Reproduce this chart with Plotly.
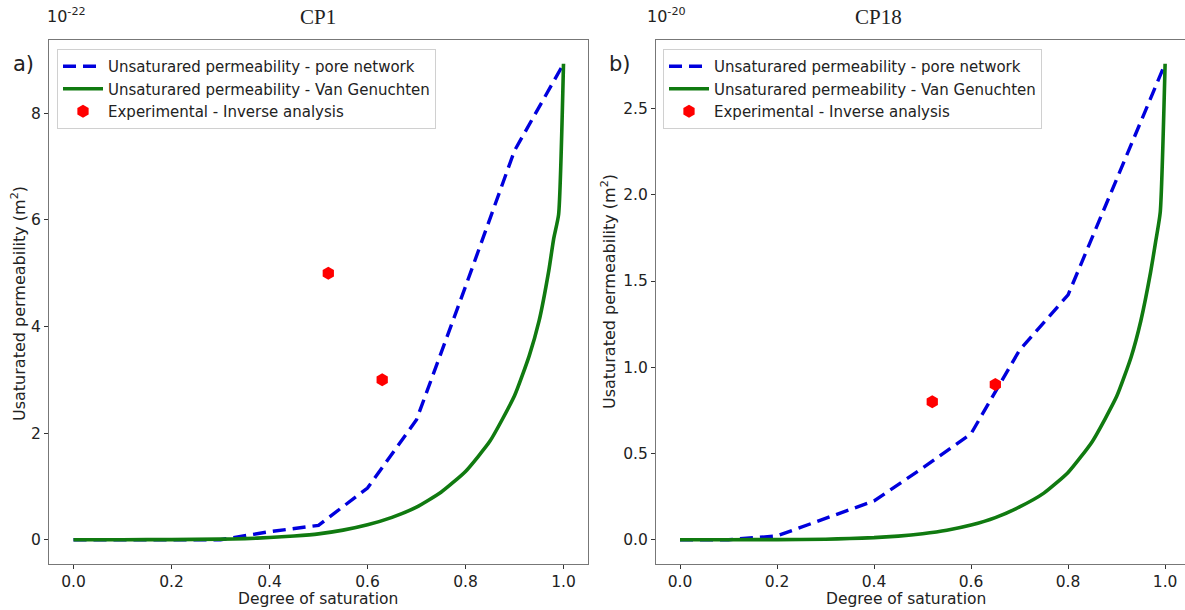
import plotly.graph_objects as go

W, H = 1185, 610

# ---------------- data ----------------
pn_x = [0.0, 0.1, 0.2, 0.3, 0.4, 0.5, 0.6, 0.7, 0.8, 0.9, 1.0]
cp1_pn = [0.0, 0.0, 0.0, 0.0, 0.15, 0.27, 0.97, 2.25, 4.75, 7.3, 8.93]
cp18_pn = [0.0, 0.0, 0.022, 0.125, 0.225, 0.415, 0.615, 1.1, 1.42, 2.09, 2.76]

vg_x = [0.0, 0.1, 0.2, 0.3, 0.35, 0.4, 0.45, 0.5, 0.55, 0.6, 0.65, 0.7, 0.75,
        0.8, 0.85, 0.9, 0.93, 0.95, 0.97, 0.98, 0.99, 1.0]
cp1_vg = [0.0, 0.0, 0.002, 0.01, 0.02, 0.04, 0.07, 0.11, 0.18, 0.28, 0.42, 0.61,
          0.89, 1.28, 1.85, 2.7, 3.45, 4.1, 5.05, 5.65, 6.1, 8.93]
cp18_vg = [0.0, 0.0, 0.0005, 0.003, 0.007, 0.012, 0.021, 0.035, 0.055, 0.085,
           0.128, 0.19, 0.27, 0.39, 0.57, 0.83, 1.06, 1.27, 1.55, 1.72, 1.9, 2.76]

cp1_exp_x = [0.52, 0.63]
cp1_exp_y = [5.0, 3.0]
cp18_exp_x = [0.52, 0.65]
cp18_exp_y = [0.8, 0.9]

x_ticks = [0.0, 0.2, 0.4, 0.6, 0.8, 1.0]
cp1_yticks = [0, 2, 4, 6, 8]
cp18_yticks = [0.0, 0.5, 1.0, 1.5, 2.0, 2.5]

names = ["Unsaturared permeability - pore network",
         "Unsaturared permeability - Van Genuchten",
         "Experimental - Inverse analysis"]

BLUE = "#0000dd"
GREEN = "#107a10"
RED = "#ff0000"

fig = go.Figure()

def add_panel(xa, ya, leg, pn, vg, ex, ey):
    fig.add_trace(go.Scatter(x=pn_x, y=pn, mode="lines", name=names[0],
                             line=dict(color=BLUE, width=3.4, dash="13px,7px"),
                             xaxis=xa, yaxis=ya, legend=leg))
    fig.add_trace(go.Scatter(x=vg_x, y=vg, mode="lines", name=names[1],
                             line=dict(color=GREEN, width=3.6, shape="spline", smoothing=0.5),
                             xaxis=xa, yaxis=ya, legend=leg))
    fig.add_trace(go.Scatter(x=ex, y=ey, mode="markers", name=names[2],
                             marker=dict(color=RED, size=13, symbol="hexagon"),
                             xaxis=xa, yaxis=ya, legend=leg))

add_panel("x", "y", "legend", cp1_pn, cp1_vg, cp1_exp_x, cp1_exp_y)
add_panel("x2", "y2", "legend2", cp18_pn, cp18_vg, cp18_exp_x, cp18_exp_y)

top = 40
bot = 563.5
ydom = [1 - bot / H, 1 - top / H]

tickfont = dict(family="DejaVu Sans", size=15.5, color="#222")
axcommon = dict(showgrid=False, zeroline=False, ticks="outside", ticklen=4,
                tickcolor="#333", showline=True, linecolor="#777", linewidth=1,
                tickfont=tickfont)

legfont = dict(family="DejaVu Sans", size=15, color="#222")

fig.update_layout(
    width=W, height=H,
    margin=dict(l=0, r=0, t=0, b=0),
    paper_bgcolor="white", plot_bgcolor="white",
    showlegend=True,
    xaxis=dict(domain=[49 / W, 588 / W], range=[-0.05, 1.05], tickvals=x_ticks,
               tickformat=".1f", mirror=True, anchor="y", **axcommon),
    yaxis=dict(domain=ydom, range=[-0.4465, 9.3765], tickvals=cp1_yticks,
               mirror=True, anchor="x", **axcommon),
    xaxis2=dict(domain=[656 / W, 1.0], range=[-0.0495, 1.041], tickvals=x_ticks,
                tickformat=".1f", mirror=True, anchor="y2", **axcommon),
    yaxis2=dict(domain=ydom, range=[-0.138, 2.898], tickvals=cp18_yticks,
                tickformat=".1f", anchor="x2", **axcommon),
    legend=dict(x=57 / W, y=1 - 49 / H, xanchor="left", yanchor="top",
                bgcolor="rgba(255,255,255,0.9)", bordercolor="#d0d0d0", borderwidth=1,
                font=legfont, tracegroupgap=0, itemwidth=40),
    legend2=dict(x=663 / W, y=1 - 49 / H, xanchor="left", yanchor="top",
                 bgcolor="rgba(255,255,255,0.9)", bordercolor="#d0d0d0", borderwidth=1,
                 font=legfont, tracegroupgap=0, itemwidth=40),
)

ann = []
def A(text, x, y, size, family="DejaVu Sans", angle=0, color="#222"):
    ann.append(dict(text=text, x=x / W, y=1 - y / H, xref="paper", yref="paper",
                    showarrow=False, textangle=angle, xanchor="center", yanchor="middle",
                    font=dict(family=family, size=size, color=color)))

A("CP1", 318, 17, 21, family="Liberation Serif")
A("CP18", 878, 17, 21, family="Liberation Serif")
A("10<sup>-22</sup>", 66, 15, 16)
A("10<sup>-20</sup>", 666, 15, 16)
A("a)", 23, 64, 21)
A("b)", 620, 64, 21)
A("Usaturated permeability (m<sup>2</sup>)", 18, 304, 16, angle=-90)
A("Usaturated permeability (m<sup>2</sup>)", 608, 292, 16, angle=-90)
A("Degree of saturation", 318, 599, 15.5)
A("Degree of saturation", 906, 599, 15.5)
fig.update_layout(annotations=ann)

fig.write_html("out.html")
